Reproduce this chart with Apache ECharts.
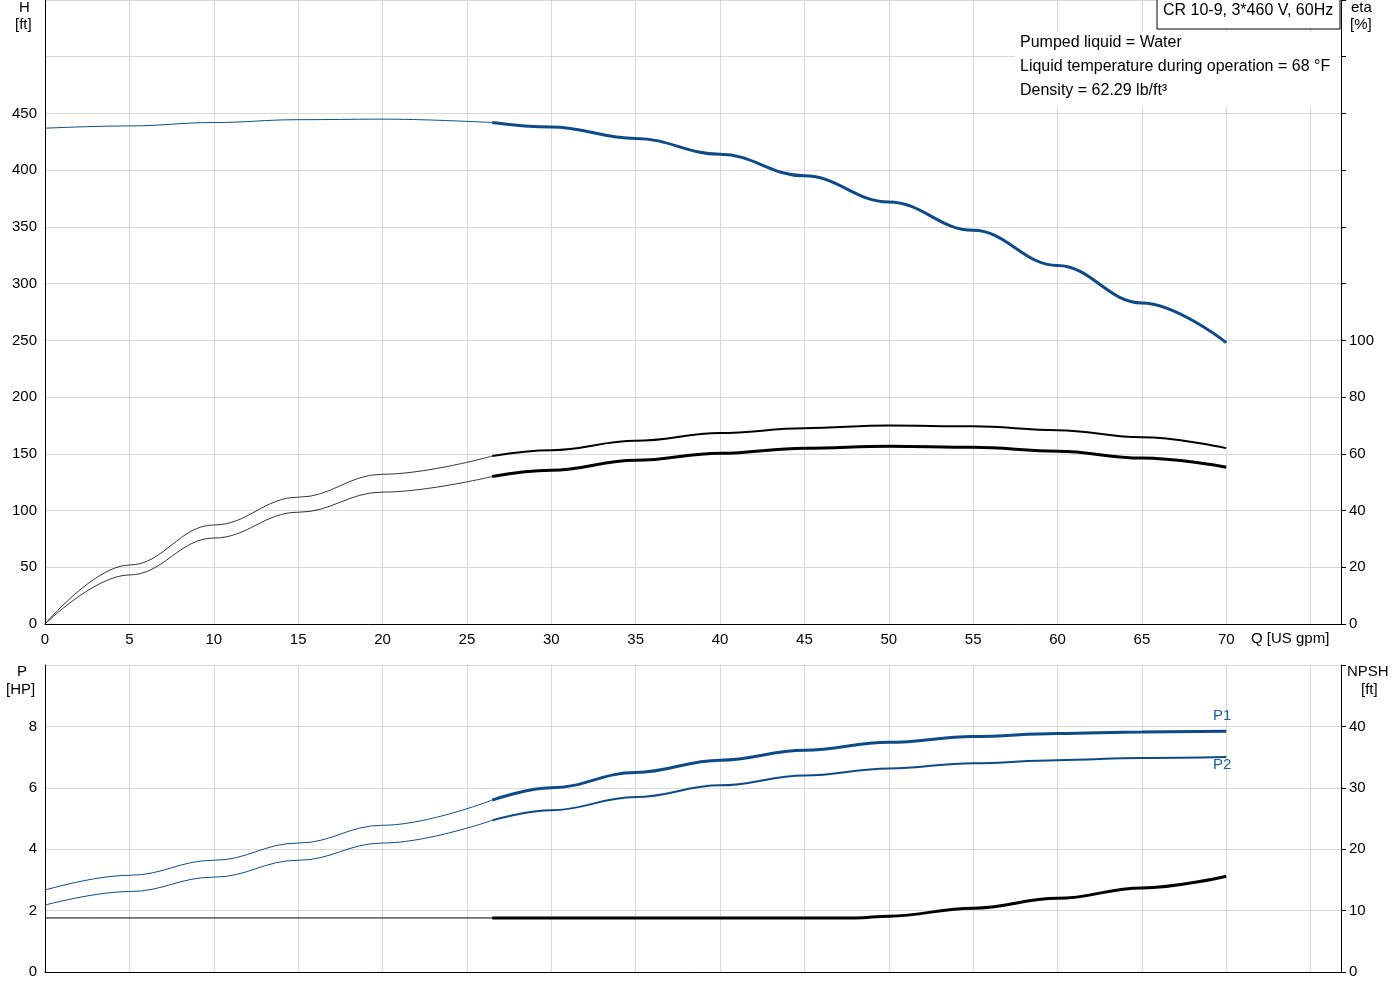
<!DOCTYPE html>
<html><head><meta charset="utf-8">
<script src="https://cdn.jsdelivr.net/npm/echarts@6/dist/echarts.min.js"></script>
<style>html,body{margin:0;padding:0;background:#fff}#c{width:1400px;height:1000px}</style>
</head><body><div id="c"></div>
<script>
const qThin = [0,5,10,15,20,26.5];
const qThick = [26.5,30,35,40,45,50,55,60,65,70];
const hThin = [437,439,442,444.5,445,442];
const hThick = [442,438,428,414,395,372,347,316,283,248];
const etaUpThin = [0,20.8,34.9,44.7,52.8,59.2];
const etaUpThick = [59.2,61.3,64.6,67.3,69,70,69.7,68.3,65.8,62];
const etaLoThin = [0,17.3,30.3,39.4,46.5,52];
const etaLoThick = [52,54.2,57.7,60.2,62,62.7,62.3,60.9,58.5,55.3];
const p1Thin = [2.67,3.15,3.64,4.2,4.78,5.6];
const p1Thick = [5.6,6.0,6.5,6.9,7.22,7.48,7.67,7.77,7.82,7.84];
const p2Thin = [2.18,2.62,3.09,3.64,4.2,4.94];
const p2Thick = [4.94,5.27,5.7,6.08,6.4,6.63,6.8,6.9,6.97,7.0];
const npshQ = [0,10,20,26.5,30,40,48,50,55,60,65,70];
const npshV = [8.8,8.8,8.8,8.8,8.8,8.8,8.8,9.1,10.4,12,13.7,15.6];

const pr=(xs,ys)=>xs.map((x,i)=>[x,ys[i]]);
const F='Liberation Sans, Arial, sans-serif';
const BLUE='#0d4a87';
function ln(name,xi,yi,xs,ys,color,w){return {name,type:'line',xAxisIndex:xi,yAxisIndex:yi,data:pr(xs,ys),smooth:0.4,smoothMonotone:'x',symbol:'none',lineStyle:{color,width:w},silent:true,z:3};}
const gridLine={show:true,lineStyle:{color:'#d9d9d9',width:1}};
const lbl={color:'#000',fontFamily:F,fontSize:15};
const chart=echarts.init(document.getElementById('c'));
chart.setOption({
 animation:false,
 grid:[{left:45,right:59,top:0,height:624},{left:45,right:59,top:665,height:307}],
 xAxis:[
  {gridIndex:0,type:'value',min:0,max:76.8,interval:5,axisLine:{lineStyle:{color:'#000'}},axisTick:{show:false},splitLine:gridLine,
   axisLabel:Object.assign({},lbl,{formatter:v=>v<=70?String(v):'',showMaxLabel:false})},
  {gridIndex:1,type:'value',min:0,max:76.8,interval:5,axisLine:{lineStyle:{color:'#000'}},axisTick:{show:false},splitLine:gridLine,axisLabel:{show:false}}
 ],
 yAxis:[
  {gridIndex:0,type:'value',min:0,max:550,interval:50,axisLine:{show:true,lineStyle:{color:'#000'}},axisTick:{show:false},splitLine:gridLine,
   axisLabel:Object.assign({},lbl,{formatter:v=>v<=450?String(v):'',margin:8})},
  {gridIndex:0,type:'value',min:0,max:220,interval:20,position:'right',axisLine:{show:true,lineStyle:{color:'#000'}},
   axisTick:{show:true,length:5,interval:(i,v)=>true},splitLine:{show:false},
   axisLabel:Object.assign({},lbl,{formatter:v=>v<=100?String(v):''})},
  {gridIndex:1,type:'value',min:0,max:10,interval:2,axisLine:{show:true,lineStyle:{color:'#000'}},axisTick:{show:false},splitLine:gridLine,
   axisLabel:Object.assign({},lbl,{formatter:v=>v<=8?String(v):''})},
  {gridIndex:1,type:'value',min:0,max:50,interval:10,position:'right',axisLine:{show:true,lineStyle:{color:'#000'}},axisTick:{show:true,length:5},splitLine:{show:false},
   axisLabel:Object.assign({},lbl,{formatter:v=>v<=40?String(v):''})}
 ],
 series:[
  ln('H',0,0,qThin,hThin,BLUE,1),
  ln('H',0,0,qThick,hThick,BLUE,3),
  ln('eta1',0,1,qThin,etaUpThin,'#000',0.8),
  ln('eta1',0,1,qThick,etaUpThick,'#000',2),
  ln('eta2',0,1,qThin,etaLoThin,'#000',0.8),
  ln('eta2',0,1,qThick,etaLoThick,'#000',3),
  ln('P1',1,2,qThin,p1Thin,BLUE,1),
  ln('P1',1,2,qThick,p1Thick,BLUE,3),
  ln('P2',1,2,qThin,p2Thin,BLUE,1),
  ln('P2',1,2,qThick,p2Thick,BLUE,2),
  Object.assign(ln('NPSH',1,3,npshQ.slice(0,4),npshV.slice(0,4),'#000',1),{smooth:false}),
  ln('NPSH',1,3,npshQ.slice(3),npshV.slice(3),'#000',3)
 ],
 graphic:[
  {type:'text',z:100,left:19,top:0,style:{text:'H',font:'15px '+F,fill:'#000'}},
  {type:'text',z:100,left:15,top:17,style:{text:'[ft]',font:'15px '+F,fill:'#000'}},
  {type:'text',z:100,left:1351,top:0,style:{text:'eta',font:'15px '+F,fill:'#000'}},
  {type:'text',z:100,left:1350,top:17,style:{text:'[%]',font:'15px '+F,fill:'#000'}},
  {type:'text',z:100,left:1251,top:631,style:{text:'Q [US gpm]',font:'15px '+F,fill:'#000'}},
  {type:'text',z:100,left:17,top:664,style:{text:'P',font:'15px '+F,fill:'#000'}},
  {type:'text',z:100,left:6,top:682,style:{text:'[HP]',font:'15px '+F,fill:'#000'}},
  {type:'text',z:100,left:1347,top:664,style:{text:'NPSH',font:'15px '+F,fill:'#000'}},
  {type:'text',z:100,left:1361,top:682,style:{text:'[ft]',font:'15px '+F,fill:'#000'}},
  {type:'text',z:100,left:1213,top:708,style:{text:'P1',font:'15px '+F,fill:'#1a5fa8'}},
  {type:'text',z:100,left:1213,top:757,style:{text:'P2',font:'15px '+F,fill:'#1a5fa8'}},
  {type:'rect',z:100,shape:{x:1157,y:-1,width:183,height:30},style:{fill:'#fff',stroke:'#000',lineWidth:1}},
  {type:'text',z:101,left:1163,top:3,style:{text:'CR 10-9, 3*460 V, 60Hz',font:'16px '+F,fill:'#000'}},
  {type:'rect',z:100,shape:{x:1015,y:32,width:324,height:75},style:{fill:'#fff'}},
  {type:'text',z:101,left:1020,top:35,style:{text:'Pumped liquid = Water',font:'16px '+F,fill:'#000'}},
  {type:'text',z:101,left:1020,top:59,style:{text:'Liquid temperature during operation = 68 °F',font:'16px '+F,fill:'#000'}},
  {type:'text',z:101,left:1020,top:83,style:{text:'Density = 62.29 lb/ft³',font:'16px '+F,fill:'#000'}}
 ]
});
</script></body></html>
